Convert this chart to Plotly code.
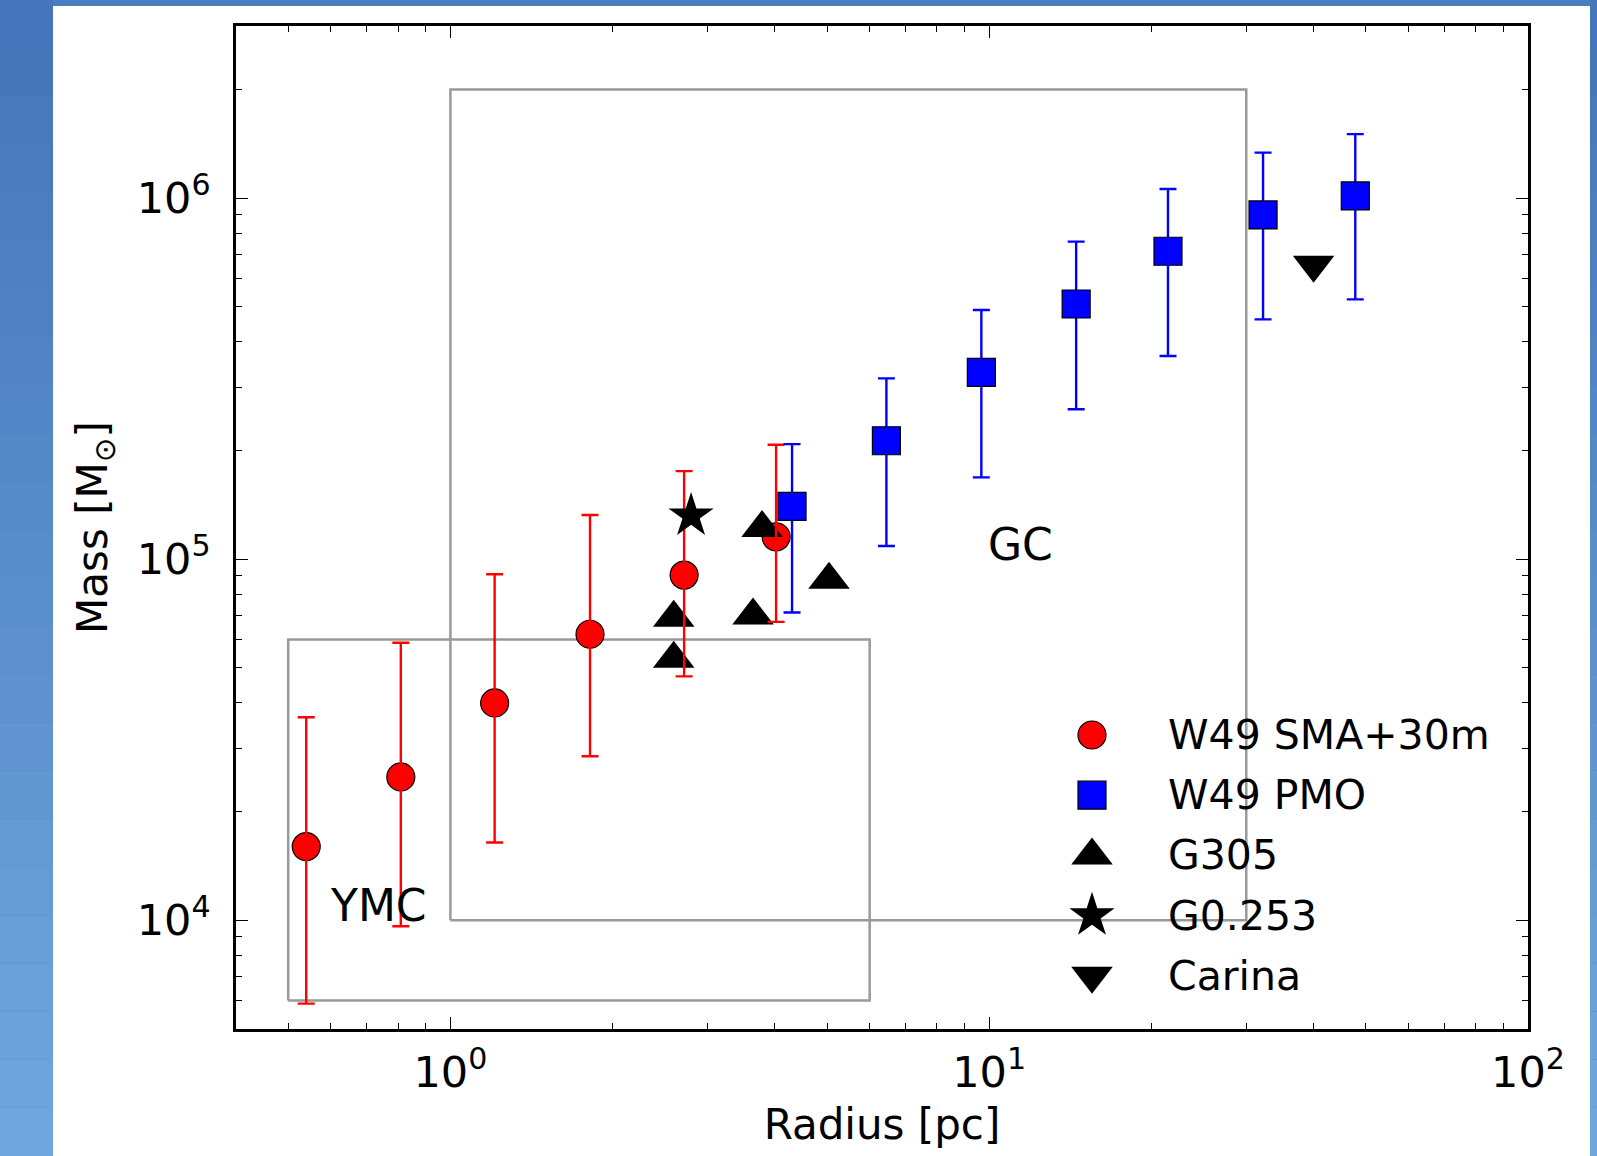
import numpy as np
import plotly.graph_objects as go

# ---------------- data ----------------
SMA_R = [0.540, 0.809, 1.208, 1.816, 2.715, 4.022]
SMA_M = [16000, 24950, 40000, 62000, 90400, 115400]
SMA_HI = [36500, 58700, 90900, 132600, 175500, 207600]
SMA_LO = [5880, 9630, 16420, 28480, 47400, 67100]

PMO_R = [4.306, 6.445, 9.670, 14.5, 21.47, 32.23, 47.8]
PMO_M = [140100, 213000, 329500, 509400, 713100, 898900, 1015000]
PMO_HI = [208400, 317000, 490200, 758300, 1061000, 1338000, 1505000]
PMO_LO = [71240, 108800, 168600, 260300, 365600, 462000, 524800]

G305_R = [2.597, 2.597, 3.645, 3.788, 5.043]
G305_M = [68900, 53000, 69900, 122000, 87800]

G0253_R = [2.797]
G0253_M = [132000]

CARINA_R = [40.0]
CARINA_M = [654600]

YMC_BOX_R = [0.5, 6.0]
YMC_BOX_M = [6000, 60000]
GC_BOX_R = [1.0, 30.0]
GC_BOX_M = [10000, 2000000]

YMC_LABEL = ("YMC", 0.6, 1e4)
GC_LABEL = ("GC", 10.0, 1e5)

X_TICKS = [1, 10, 100]
X_TICKTEXT = ["10<sup>0</sup>", "10<sup>1</sup>", "10<sup>2</sup>"]
Y_TICKS = [1e4, 1e5, 1e6]
Y_TICKTEXT = ["10<sup>4</sup>", "10<sup>5</sup>", "10<sup>6</sup>"]
X_RANGE = [0.4, 100]
Y_RANGE = [5000, 3000000]

LEGEND_NAMES = ["W49 SMA+30m", "W49 PMO", "G305", "G0.253", "Carina"]

# ---------------- style ----------------
FONT = "DejaVu Sans"
FS = 42
W_FIG, H_FIG = 1597, 1156
ML, MR, MT, MB = 236, 69, 26, 127
PW, PH = W_FIG - ML - MR, H_FIG - MT - MB

RED, BLUE, BLACK, GRAY = "#ff0000", "#0000ff", "#000000", "#999999"
SYMBOLS = ["circle", "square", "triangle-up", "star", "triangle-down"]
COLORS = [RED, BLUE, BLACK, BLACK, BLACK]
SIZES = [28, 28, 36, 34, 36]
EDGE = [1.2, 1.2, 0, 0, 0]


def px_x(p):
    return (p - ML) / PW


def px_y(p):
    return (H_FIG - MB - p) / PH


fig = go.Figure()

# boxes
for xr, yr in [(YMC_BOX_R, YMC_BOX_M), (GC_BOX_R, GC_BOX_M)]:
    fig.add_trace(go.Scatter(
        x=[xr[0], xr[1], xr[1], xr[0], xr[0]],
        y=[yr[0], yr[0], yr[1], yr[1], yr[0]],
        mode="lines", line=dict(color=GRAY, width=2.5),
        hoverinfo="skip", showlegend=False))

sma_up = [h - m for h, m in zip(SMA_HI, SMA_M)]
sma_dn = [m - l for m, l in zip(SMA_M, SMA_LO)]
pmo_up = [h - m for h, m in zip(PMO_HI, PMO_M)]
pmo_dn = [m - l for m, l in zip(PMO_M, PMO_LO)]

# W49 SMA+30m markers
fig.add_trace(go.Scatter(
    x=SMA_R, y=SMA_M, mode="markers", name=LEGEND_NAMES[0], showlegend=False,
    marker=dict(symbol="circle", size=SIZES[0], color=RED,
                line=dict(color=BLACK, width=EDGE[0]))))

# G305
fig.add_trace(go.Scatter(
    x=G305_R, y=G305_M, mode="markers", name=LEGEND_NAMES[2], showlegend=False,
    marker=dict(symbol="triangle-up", size=SIZES[2], color=BLACK,
                line=dict(width=0))))

# W49 SMA+30m error bars (on top of triangles as in the reference)
fig.add_trace(go.Scatter(
    x=SMA_R, y=SMA_M, mode="markers", showlegend=False, hoverinfo="skip",
    marker=dict(size=1, color="rgba(0,0,0,0)"),
    error_y=dict(type="data", symmetric=False, array=sma_up, arrayminus=sma_dn,
                 color=RED, thickness=2.4, width=8.5)))

# W49 PMO
fig.add_trace(go.Scatter(
    x=PMO_R, y=PMO_M, mode="markers", name=LEGEND_NAMES[1], showlegend=False,
    marker=dict(symbol="square", size=SIZES[1], color=BLUE,
                line=dict(color=BLACK, width=EDGE[1])),
    error_y=dict(type="data", symmetric=False, array=pmo_up, arrayminus=pmo_dn,
                 color=BLUE, thickness=2.4, width=8.5)))

# G0.253
fig.add_trace(go.Scatter(
    x=G0253_R, y=G0253_M, mode="markers", name=LEGEND_NAMES[3], showlegend=False,
    marker=dict(symbol="star", size=SIZES[3], color=BLACK, line=dict(width=0))))

# Carina
fig.add_trace(go.Scatter(
    x=CARINA_R, y=CARINA_M, mode="markers", name=LEGEND_NAMES[4], showlegend=False,
    marker=dict(symbol="triangle-down", size=SIZES[4], color=BLACK,
                line=dict(width=0))))

# ---------------- custom legend (large symbols like the reference) ----------------
LEG_SYM_X = px_x(1092)
LEG_TXT_X = px_x(1166)
LEG_TOP = px_y(735)
LEG_STEP = 60.2 / PH
for i, name in enumerate(LEGEND_NAMES):
    yy = LEG_TOP - i * LEG_STEP
    fig.add_trace(go.Scatter(
        x=[LEG_SYM_X], y=[yy], xaxis="x2", yaxis="y2", mode="markers",
        showlegend=False, hoverinfo="skip",
        marker=dict(symbol=SYMBOLS[i], size=SIZES[i], color=COLORS[i],
                    line=dict(color=BLACK, width=EDGE[i]))))
    fig.add_annotation(x=LEG_TXT_X, y=yy, xref="paper", yref="paper",
                       text=name, showarrow=False, xanchor="left", yanchor="middle",
                       font=dict(family=FONT, size=FS - 1, color=BLACK))

# region labels (annotation positions on log axes are given in log10)
for txt, xv, yv in [YMC_LABEL, GC_LABEL]:
    fig.add_annotation(x=np.log10(xv), y=np.log10(yv), xref="x", yref="y",
                       text=txt, showarrow=False, xanchor="left", yanchor="bottom",
                       yshift=-13, xshift=-3,
                       font=dict(family=FONT, size=FS + 2, color=BLACK))

# ---------------- background (slide frame) ----------------
shapes = []
shapes.append(dict(type="rect", xref="paper", yref="paper",
                   x0=px_x(53), x1=px_x(1590), y0=px_y(H_FIG + 5), y1=px_y(6),
                   fillcolor="white", line=dict(width=0), layer="below"))
top_c = np.array([0x45, 0x75, 0xBA])
bot_c = np.array([0x70, 0xA6, 0xDD])
NB = 24
for k in range(NB):
    t = k / (NB - 1)
    c = (top_c * (1 - t) + bot_c * t).astype(int)
    col = "rgb(%d,%d,%d)" % tuple(c)
    y0p = k * H_FIG / NB
    y1p = (k + 1) * H_FIG / NB
    for xa, xb in [(-5, 53), (1590, W_FIG + 5)]:
        shapes.append(dict(type="rect", xref="paper", yref="paper",
                           x0=px_x(xa), x1=px_x(xb), y0=px_y(y1p), y1=px_y(y0p),
                           fillcolor=col, line=dict(width=0), layer="below"))
fig.update_layout(shapes=shapes)

# ---------------- axes ----------------
def minor_vals(lo_exp, hi_exp, lo, hi):
    vals = []
    for e in range(lo_exp, hi_exp + 1):
        for m in range(2, 10):
            v = m * 10.0 ** e
            if lo <= v <= hi:
                vals.append(v)
    return vals


axis_common = dict(
    type="log", showgrid=False, zeroline=False,
    showline=True, linewidth=2.5, linecolor=BLACK, mirror="allticks",
    ticks="inside", ticklen=12, tickwidth=1.3, tickcolor=BLACK,
    tickfont=dict(family=FONT, size=FS + 1, color=BLACK),
    automargin=False,
)

fig.update_layout(
    width=W_FIG, height=H_FIG,
    margin=dict(l=ML, r=MR, t=MT, b=MB, pad=0),
    paper_bgcolor="#4a7cc0", plot_bgcolor="rgba(0,0,0,0)",
    font=dict(family=FONT, size=FS, color=BLACK),
    showlegend=False,
    xaxis=dict(axis_common, range=[np.log10(X_RANGE[0]), np.log10(X_RANGE[1])],
               tickmode="array", tickvals=X_TICKS, ticktext=X_TICKTEXT,
               ticklabelstandoff=4,
               minor=dict(ticks="inside", ticklen=6, tickwidth=1.1, tickcolor=BLACK,
                          tickmode="array",
                          tickvals=minor_vals(-1, 1, X_RANGE[0], X_RANGE[1]),
                          showgrid=False),
               title=dict(text="Radius [pc]", standoff=14,
                          font=dict(family=FONT, size=FS, color=BLACK))),
    yaxis=dict(axis_common, range=[np.log10(Y_RANGE[0]), np.log10(Y_RANGE[1])],
               tickmode="array", tickvals=Y_TICKS, ticktext=Y_TICKTEXT,
               ticklabelstandoff=14,
               minor=dict(ticks="inside", ticklen=6, tickwidth=1.1, tickcolor=BLACK,
                          tickmode="array",
                          tickvals=minor_vals(3, 6, Y_RANGE[0], Y_RANGE[1]),
                          showgrid=False),
               title=dict(text="Mass [M<sub>\u2299</sub>]", standoff=17,
                          font=dict(family=FONT, size=FS, color=BLACK))),
    xaxis2=dict(overlaying="x", range=[0, 1], visible=False, fixedrange=True),
    yaxis2=dict(overlaying="y", range=[0, 1], visible=False, fixedrange=True),
)

fig.write_html(
    "out.html",
    config={"displayModeBar": False},
    post_script="document.body.style.margin='0px';"
                "document.body.style.background='#4a7cc0';"
                "document.body.style.overflow='hidden';",
)
